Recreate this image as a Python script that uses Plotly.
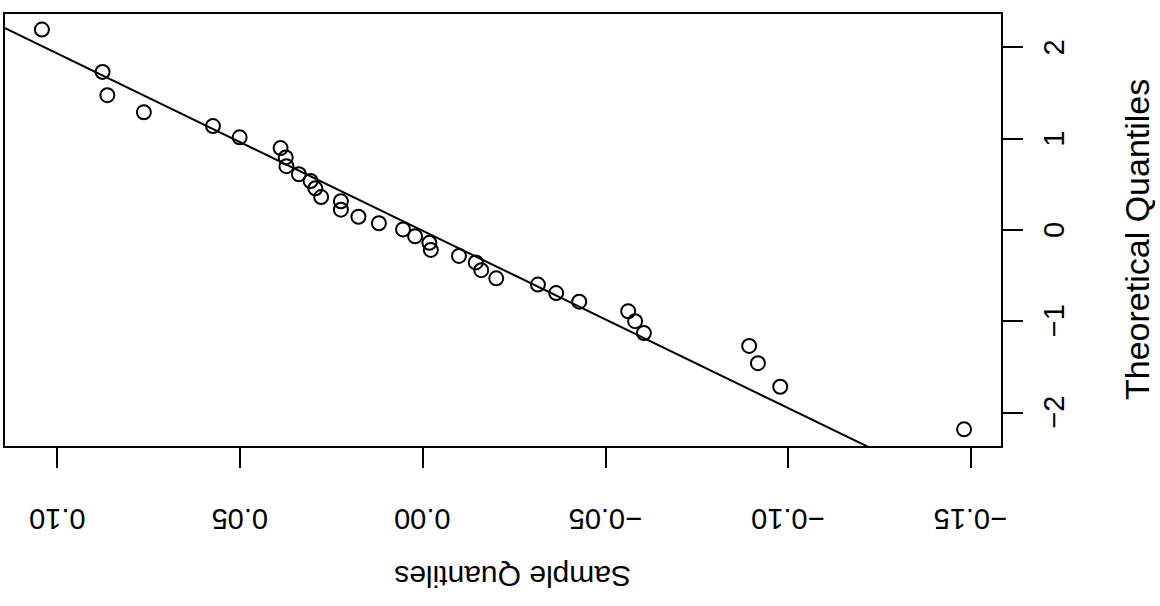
import plotly.graph_objects as go

# Sample quantiles (x) and theoretical quantiles (y)
sample_q = [0.1042, 0.0876, 0.0863, 0.0763, 0.0574, 0.0501, 0.0389, 0.0375, 0.0373,
            0.0339, 0.0307, 0.0294, 0.0278, 0.0224, 0.0224, 0.0176, 0.0120, 0.0054,
            0.0021, -0.0018, -0.0022, -0.0099, -0.0145, -0.0160, -0.0201, -0.0315,
            -0.0365, -0.0428, -0.0562, -0.0581, -0.0605, -0.0893, -0.0917, -0.0978,
            -0.1481]
theo_q = [2.195, 1.732, 1.477, 1.290, 1.138, 1.015, 0.897, 0.795, 0.699,
          0.611, 0.537, 0.456, 0.361, 0.315, 0.223, 0.145, 0.074, 0.006,
          -0.069, -0.141, -0.218, -0.284, -0.355, -0.440, -0.529, -0.598,
          -0.691, -0.785, -0.890, -0.999, -1.129, -1.270, -1.459, -1.717,
          -2.183]

# Reference line (qqline)
line_slope = 19.42
line_intercept = -0.009

x_ticks = [0.10, 0.05, 0.00, -0.05, -0.10, -0.15]
x_tick_text = ["0.10", "0.05", "0.00", "\u22120.05", "\u22120.10", "\u22120.15"]
y_ticks = [2, 1, 0, -1, -2]
y_tick_text = ["2", "1", "0", "\u22121", "\u22122"]

x_range = [0.1143, -0.1582]
y_range = [-2.366, 2.366]

x_title = "Sample Quantiles"
y_title = "Theoretical Quantiles"

FONT = "Liberation Sans, Arial, Helvetica, sans-serif"

# plot box in pixels
L, R, T, B = 5, 1001, 14, 446
W, H = 1160, 606
PW, PH = R - L, B - T


def px_x(px):
    return (px - L) / PW


def px_y(py):
    return (B - py) / PH


line_x = [x_range[0], x_range[1]]
line_y = [line_intercept + line_slope * v for v in line_x]

fig = go.Figure()
fig.add_trace(go.Scatter(
    x=line_x, y=line_y, mode="lines",
    line=dict(color="black", width=2), hoverinfo="skip", showlegend=False))
fig.add_trace(go.Scatter(
    x=sample_q, y=theo_q, mode="markers",
    marker=dict(symbol="circle-open", size=14, color="black", line=dict(width=2)),
    showlegend=False))

annotations = []
for v, t in zip(x_ticks, x_tick_text):
    annotations.append(dict(text=t, x=v, xref="x", y=px_y(519), yref="paper",
                            showarrow=False, textangle=180,
                            font=dict(size=29, family=FONT, color="black"),
                            xanchor="center", yanchor="middle"))
for v, t in zip(y_ticks, y_tick_text):
    annotations.append(dict(text=t, x=px_x(1054), xref="paper", y=v, yref="y",
                            showarrow=False, textangle=-90,
                            font=dict(size=29, family=FONT, color="black"),
                            xanchor="center", yanchor="middle"))
annotations.append(dict(text=x_title, xref="paper", yref="paper", x=px_x(513), y=px_y(577),
                        showarrow=False, textangle=180,
                        font=dict(size=30, family=FONT, color="black"),
                        xanchor="center", yanchor="middle"))
annotations.append(dict(text=y_title, xref="paper", yref="paper", x=px_x(1137), y=px_y(240),
                        showarrow=False, textangle=-90,
                        font=dict(size=34, family=FONT, color="black"),
                        xanchor="center", yanchor="middle"))

fig.update_layout(
    width=W, height=H,
    margin=dict(l=L, r=W - R, t=T, b=H - B, autoexpand=False),
    paper_bgcolor="white", plot_bgcolor="white",
    font=dict(family=FONT, color="black"),
    xaxis=dict(
        range=x_range, tickvals=x_ticks, showticklabels=False, automargin=False,
        ticks="outside", ticklen=20, tickwidth=1.5, tickcolor="black",
        showline=True, mirror=True, linecolor="black", linewidth=2,
        showgrid=False, zeroline=False),
    yaxis=dict(
        range=y_range, tickvals=y_ticks, showticklabels=False, side="right", automargin=False,
        ticks="outside", ticklen=20, tickwidth=1.5, tickcolor="black",
        showline=True, mirror=True, linecolor="black", linewidth=2,
        showgrid=False, zeroline=False),
    annotations=annotations,
)

fig.write_html("out.html",
               config={"displayModeBar": False},
               post_script="document.body.style.margin='0';document.body.style.overflow='hidden';")
